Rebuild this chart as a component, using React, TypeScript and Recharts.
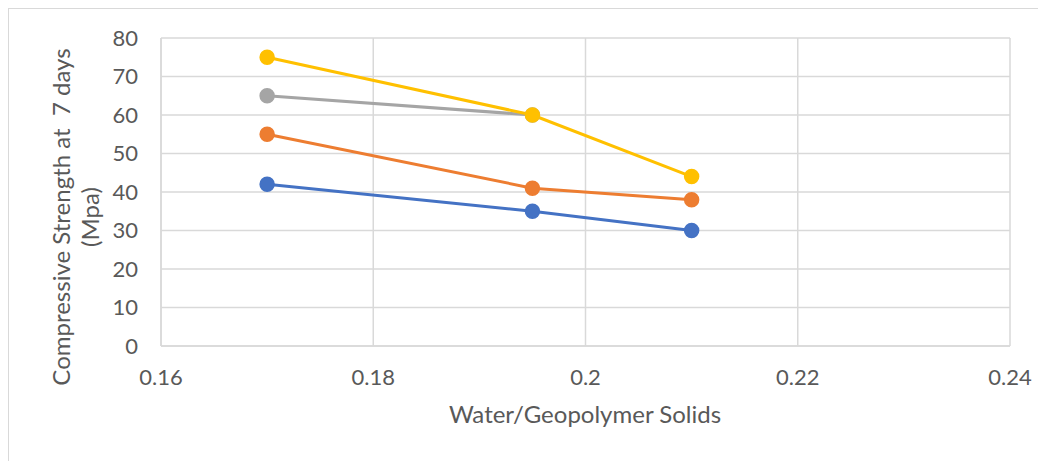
import React from "react";
import { LineChart, Line, XAxis, YAxis, CartesianGrid } from "recharts";

const xTicks = [0.16, 0.18, 0.2, 0.22, 0.24];
const yTicks = [0, 10, 20, 30, 40, 50, 60, 70, 80];

const blueSeries = [
  { x: 0.17, y: 42 },
  { x: 0.195, y: 35 },
  { x: 0.21, y: 30 },
];
const orangeSeries = [
  { x: 0.17, y: 55 },
  { x: 0.195, y: 41 },
  { x: 0.21, y: 38 },
];
const graySeries = [
  { x: 0.17, y: 65 },
  { x: 0.195, y: 60 },
];
const yellowSeries = [
  { x: 0.17, y: 75 },
  { x: 0.195, y: 60 },
  { x: 0.21, y: 44 },
];

const FONT = "Lato, 'Open Sans', sans-serif";
const TXT = "#595959";
const GRID = "#d9d9d9";

const series = [
  { key: "blue", data: blueSeries, color: "#4472C4" },
  { key: "orange", data: orangeSeries, color: "#ED7D31" },
  { key: "gray", data: graySeries, color: "#A5A5A5" },
  { key: "yellow", data: yellowSeries, color: "#FFC000" },
];

const YTitle = () => (
  <g>
    <text
      transform="translate(62, 209) rotate(-90)"
      textAnchor="middle"
      fill={TXT}
      fontSize={24}
      fontFamily={FONT}
      style={{ whiteSpace: "pre" }}
    >
      {"Compressive Strength at  7 days"}
    </text>
    <text
      transform="translate(91, 209) rotate(-90)"
      textAnchor="middle"
      fill={TXT}
      fontSize={24}
      fontFamily={FONT}
    >
      (Mpa)
    </text>
  </g>
);

const XTitle = () => (
  <text x={577} y={415} textAnchor="middle" fill={TXT} fontSize={24} fontFamily={FONT}>
    Water/Geopolymer Solids
  </text>
);

export default function App() {
  return (
    <div style={{ position: "relative", width: 1038, height: 453 }}>
      <div
        style={{
          position: "absolute",
          left: 0,
          top: 0,
          width: 1037,
          height: 452,
          borderTop: "1px solid #d9d9d9",
          borderLeft: "1px solid #d9d9d9",
        }}
      />
      <div style={{ position: "absolute", left: 0, top: 0 }}>
        <LineChart
          width={1038}
          height={453}
          margin={{ top: 30, right: 36, left: 0, bottom: 0 }}
        >
          <CartesianGrid stroke={GRID} strokeWidth={1.5} />
          <XAxis
            type="number"
            dataKey="x"
            domain={[0.16, 0.24]}
            ticks={xTicks}
            allowDataOverflow
            height={115}
            tickSize={0}
            tickMargin={23}
            axisLine={{ stroke: GRID, strokeWidth: 1.5 }}
            tickLine={false}
            tick={{ fill: TXT, fontSize: 22, fontFamily: FONT }}
            label={<XTitle />}
          />
          <YAxis
            type="number"
            dataKey="y"
            domain={[0, 80]}
            ticks={yTicks}
            width={153}
            tickSize={0}
            tickMargin={23}
            axisLine={{ stroke: GRID, strokeWidth: 1.5 }}
            tickLine={false}
            tick={{ fill: TXT, fontSize: 22, fontFamily: FONT }}
            label={<YTitle />}
          />
          {series.map((s) => (
            <Line
              key={s.key}
              data={s.data}
              dataKey="y"
              type="linear"
              stroke={s.color}
              strokeWidth={3}
              dot={{ r: 7, fill: s.color, stroke: s.color, strokeWidth: 1.5 }}
              activeDot={false}
              isAnimationActive={false}
            />
          ))}
        </LineChart>
      </div>
    </div>
  );
}
